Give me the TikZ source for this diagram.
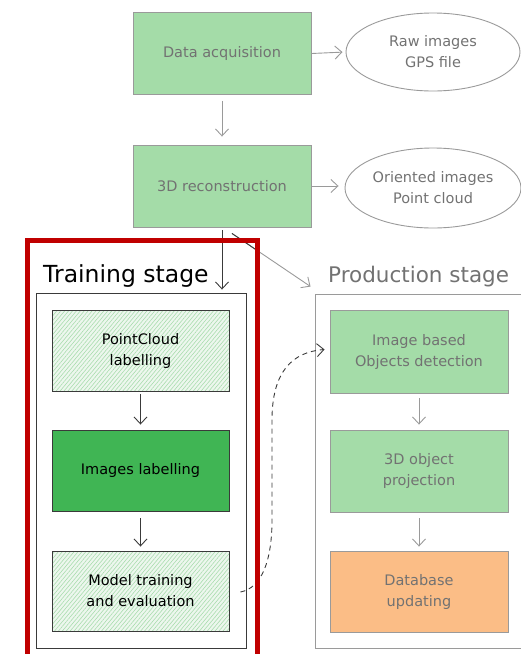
\documentclass[tikz,border=0pt]{standalone}
\usepackage{fontspec}
\setmainfont{DejaVu Sans}
\usetikzlibrary{arrows.meta,patterns.meta,calc,shapes.geometric}
\definecolor{softgreen}{HTML}{A4DCA8}
\definecolor{deepgreen}{HTML}{40B554}
\definecolor{peach}{HTML}{FBBD86}
\definecolor{hatchline}{HTML}{A9DDAE}
\definecolor{hatchbg}{HTML}{EDF7EE}
\definecolor{fadetext}{HTML}{727272}
\definecolor{fadeline}{HTML}{9A9A9A}
\definecolor{inkline}{HTML}{3A3A3A}
\definecolor{markred}{HTML}{C00000}
\tikzset{
  every node/.style={font=\fontsize{14.5}{21}\selectfont, align=center},
  fadebox/.style={draw=fadeline, line width=0.9pt, fill=softgreen, text=fadetext,
    minimum width=178pt, minimum height=82pt, inner sep=0pt},
  inkbox/.style={draw=inkline, line width=0.9pt, text=black,
    minimum width=177pt, minimum height=81pt, inner sep=0pt},
  hatched/.style={inkbox, preaction={fill=hatchbg},
    pattern={Lines[angle=50,distance=3pt,line width=0.6pt]}, pattern color=hatchline},
  cloud/.style={ellipse, draw=fadeline, line width=0.9pt, text=fadetext, inner sep=0pt},
  frame/.style={draw, line width=0.9pt, inner sep=0pt},
  fadearrow/.style={draw=fadeline, line width=0.9pt, -{Straight Barb[length=7pt,width=13pt]}},
  inkarrow/.style={draw=inkline, line width=0.9pt, -{Straight Barb[length=7pt,width=13pt]}},
  stagetitle/.style={font=\fontsize{23.5}{26}\selectfont, anchor=base west, inner sep=0pt},
}
\begin{document}
\begin{tikzpicture}[x=1pt, y=-1pt]
  \useasboundingbox (0,0) rectangle (521,654);

  % upper pipeline
  \node[fadebox] (daq) at (222,53.5) {Data acquisition};
  \node[cloud, minimum width=174pt, minimum height=78pt] (raw) at (433,52) {Raw images\\GPS file};
  \node[fadebox] (rec) at (222,186) {3D reconstruction};
  \node[cloud, minimum width=176pt, minimum height=80pt] (ori) at (433,188) {Oriented images\\Point cloud};

  \draw[fadearrow, shorten >=3pt] (daq.east) -- (raw.west);
  \draw[fadearrow, shorten >=6pt] (rec.east) -- (rec.east -| ori.west);
  \draw[fadearrow, shorten <=6pt, shorten >=8pt] (daq.south) -- (rec.north);

  % training stage
  \node[frame, draw=inkline, minimum width=210pt, minimum height=355pt] (train) at (141,470.5) {};
  \node[stagetitle, text=black] (traintitle) at (43,282) {Training stage};
  \node[hatched] (pcl) at (140.5,350.5) {PointCloud\\labelling};
  \node[inkbox, fill=deepgreen] (img) at (140.5,470.5) {Images labelling};
  \node[hatched, minimum height=80pt] (mt) at (140.5,591) {Model training\\and evaluation};
  \draw[inkarrow, shorten <=3pt, shorten >=5pt] (pcl.south) -- (img.north);
  \draw[inkarrow, shorten <=7pt, shorten >=4pt] (img.south) -- (mt.north);

  % production stage
  \node[frame, draw=fadeline, minimum width=215pt, minimum height=354pt] (prod) at (422.5,471) {};
  \node[stagetitle, text=fadetext, font=\fontsize{21.5}{24}\selectfont] (prodtitle) at (328,282) {Production stage};
  \node[fadebox, minimum height=83pt] (ibd) at (419,351.5) {Image based\\Objects detection};
  \node[fadebox] (proj) at (419,471) {3D object\\projection};
  \node[fadebox, fill=peach, minimum height=81pt] (db) at (419,591.5) {Database\\updating};
  \draw[fadearrow, shorten <=5pt, shorten >=5pt] (ibd.south) -- (proj.north);
  \draw[fadearrow, shorten <=6pt, shorten >=4pt] (proj.south) -- (db.north);

  % hand-over from reconstruction to both stages
  \coordinate (split) at ($(rec.south)+(10,6)$);
  \coordinate (prodin) at ($(prod.north west)+(-4,-7)$);
  \draw[fadearrow] (split) -- (prodin);
  \draw[inkline, line width=0.9pt] (split) -- ($(split)!0.32!(prodin)$);
  \draw[inkarrow, shorten <=3pt, shorten >=3pt] (rec.south) -- (rec.south |- train.north);

  % trained model feeds detection
  \coordinate (mtout) at ($(mt.east)+(11,1)$);
  \draw[draw=inkline, line width=0.9pt, dash pattern=on 5pt off 4pt, -{Straight Barb[length=7pt,width=13pt]}]
    (mtout) .. controls (262,588) and (272,560) .. (272,520) -- (272,420)
    .. controls (272,372) and (292,352) .. ($(ibd.west)+(-5,-2)$);

  % highlight around the training stage
  \draw[markred, line width=5pt] (257,662) -- (257,240) -- (27.5,240) -- (27.5,662);
\end{tikzpicture}
\end{document}
